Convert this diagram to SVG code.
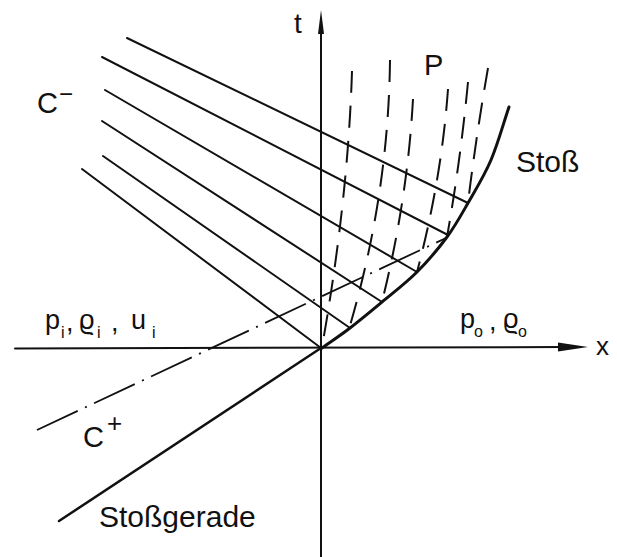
<svg xmlns="http://www.w3.org/2000/svg" width="617" height="557" viewBox="0 0 617 557">
<defs>
<style>
.ln{stroke:#111;stroke-width:2;fill:none;stroke-linecap:round}
.shock{stroke:#111;stroke-width:3;fill:none;stroke-linecap:round}
.dash{stroke:#111;stroke-width:2;fill:none;stroke-dasharray:22 13}
.dd{stroke:#111;stroke-width:1.8;fill:none;stroke-dasharray:45 8 2 8}
.lbl{font-family:"Liberation Sans",Arial,sans-serif;fill:#111}
.sub{font-size:16px}
</style>
</defs>
<rect width="617" height="557" fill="#fff"/>
<g id="axes">
<line class="ln" x1="321" y1="30" x2="321" y2="557"/>
<polygon points="321,10 318,34 324,34" fill="#111"/>
<line class="ln" x1="15" y1="348.5" x2="565" y2="347"/>
<polygon points="588,347 558,342.5 558,351.5" fill="#111"/>
</g>
<g id="shock">
<path class="shock" d="M322,348 C331.3,341.3 340,335.7 350,328 C360,320.3 370.8,311.3 382,302 C393.2,292.7 406.2,282.8 417,272 C427.8,261.2 438.5,248.5 447,237 C455.5,225.5 460.7,215.8 468,203 C475.3,190.2 484.2,176 491,160 C497.8,144 503,124.7 509,107"/>
</g>
<g id="stossgerade">
<line class="ln" x1="321" y1="348" x2="59" y2="521" style="stroke-width:2.5"/>
</g>
<g id="c-minus">
<line class="ln" x1="127" y1="38" x2="468" y2="203"/>
<line class="ln" x1="102" y1="57" x2="448" y2="235"/>
<line class="ln" x1="105" y1="90" x2="417" y2="272"/>
<line class="ln" x1="102" y1="121" x2="382" y2="302"/>
<line class="ln" x1="103" y1="156" x2="350" y2="328"/>
<line class="ln" x1="82" y1="169" x2="321" y2="348"/>
</g>
<g id="c-plus">
<line class="dd" x1="37" y1="430" x2="446" y2="238"/>
</g>
<g id="particle-paths">
<path class="dash" d="M352,71 Q348,200 322,347"/>
<path class="dash" d="M390,60 Q388.5,195.5 349,329"/>
<path class="dash" d="M413,99 Q407.5,199.5 382,302"/>
<path class="dash" d="M448,89 Q441.5,179.5 417,272"/>
<path class="dash" d="M468,82 Q460.5,160.5 447,237"/>
<path class="dash" d="M488,68 Q476,136.5 468,203"/>
</g>
<g id="labels">
<text class="lbl" x="294" y="33" font-size="28">t</text>
<text class="lbl" x="596" y="355" font-size="26">x</text>
<text class="lbl" x="424" y="75" font-size="29">P</text>
<text class="lbl" x="516" y="172" font-size="30">Stoß</text>
<text class="lbl" x="99" y="527" font-size="30">Stoßgerade</text>
<text class="lbl" x="37" y="113" font-size="29">C<tspan x="59" y="102" font-size="24">−</tspan></text>
<text class="lbl" x="83" y="447" font-size="29">C<tspan x="107" y="432" font-size="26">+</tspan></text>
<text class="lbl" font-size="27"><tspan x="45" y="329">p</tspan><tspan class="sub" x="61" y="338">i</tspan><tspan x="66" y="331">,</tspan><tspan x="79" y="329">ϱ</tspan><tspan class="sub" x="97" y="338">i</tspan><tspan x="111" y="331">,</tspan><tspan x="131" y="329">u</tspan><tspan class="sub" x="152" y="338">i</tspan></text>
<text class="lbl" font-size="27"><tspan x="460" y="328">p</tspan><tspan class="sub" x="474" y="337">o</tspan><tspan x="489" y="330">,</tspan><tspan x="503" y="328">ϱ</tspan><tspan class="sub" x="518" y="337">o</tspan></text>
</g>
</svg>
